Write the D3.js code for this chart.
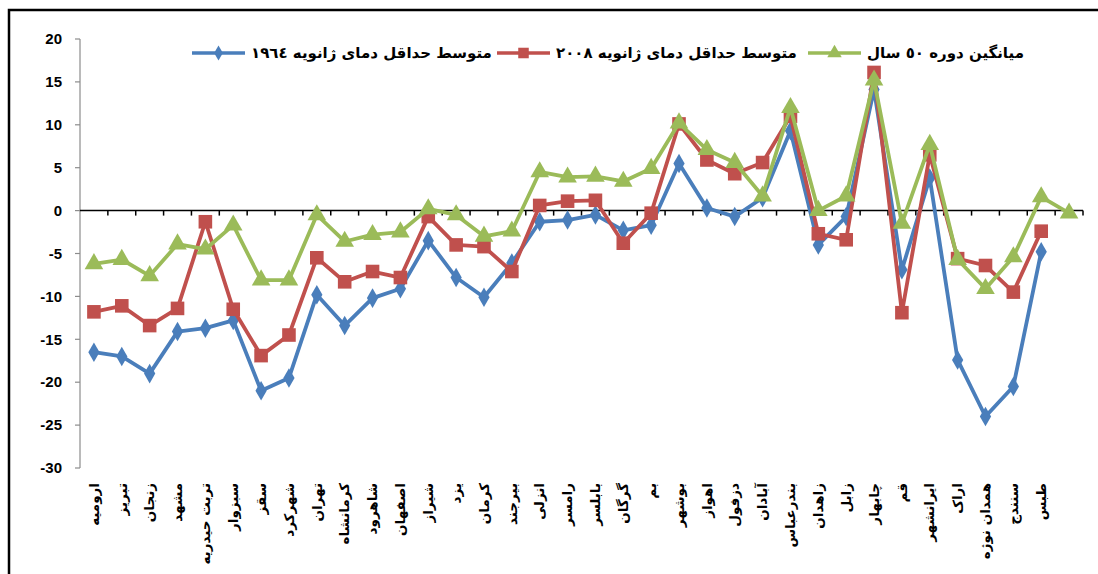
<!doctype html>
<html>
<head>
<meta charset="UTF-8">
<title>متوسط حداقل دمای ژانویه</title>
<script src="https://d3js.org/d3.v7.min.js"></script>
<style>
  body { margin: 0; background: #fff; }
  svg { display: block; }
  .ylab { font-family: "Liberation Sans", Arial, sans-serif; font-weight: bold; font-size: 15px; fill: #000; }
  .xlab { font-family: "DejaVu Sans", sans-serif; font-weight: bold; font-size: 13.5px; fill: #000; }
  .leg { font-family: "DejaVu Sans", sans-serif; font-weight: bold; font-size: 15px; fill: #000; }
</style>
</head>
<body>
<div id="chart"></div>
<script>
// categories (stations), last slot has no label
var stations = ["ارومیه", "تبریز", "زنجان", "مشهد", "تربت حیدریه", "سبزوار", "سقز", "شهرکرد",
  "تهران", "کرمانشاه", "شاهرود", "اصفهان", "شیراز", "یزد", "کرمان", "بیرجند", "انزلی", "رامسر",
  "بابلسر", "گرگان", "بم", "بوشهر", "اهواز", "دزفول", "آبادان", "بندرعباس", "زاهدان", "زابل",
  "چابهار", "قم", "ایرانشهر", "اراک", "همدان نوژه", "سنندج", "طبس", ""];

var jan1964 = [-16.5, -17.0, -19.0, -14.1, -13.7, -12.8, -21.0, -19.5, -9.8, -13.4, -10.2, -9.1,
  -3.5, -7.8, -10.1, -6.1, -1.3, -1.1, -0.5, -2.3, -1.7, 5.5, 0.3, -0.7, 1.5, 9.3, -4.0, -0.7,
  14.1, -6.9, 3.8, -17.4, -24.0, -20.5, -4.8, null];

var jan2008 = [-11.8, -11.1, -13.4, -11.4, -1.3, -11.5, -16.9, -14.5, -5.5, -8.3, -7.1, -7.8,
  -0.7, -4.0, -4.2, -7.1, 0.6, 1.1, 1.2, -3.8, -0.3, 10.1, 5.9, 4.3, 5.6, 11.0, -2.7, -3.4,
  16.1, -11.9, 6.5, -5.6, -6.4, -9.5, -2.4, null];

var avg50 = [-6.2, -5.7, -7.6, -3.9, -4.5, -1.7, -8.1, -8.1, -0.5, -3.6, -2.8, -2.5,
  0.2, -0.5, -3.0, -2.4, 4.5, 3.9, 4.0, 3.4, 4.9, 10.2, 7.1, 5.6, 1.7, 12.0, 0.0, 1.7,
  15.2, -1.5, 7.7, -5.7, -9.1, -5.4, 1.6, -0.3];

var yTicks = [20, 15, 10, 5, 0, -5, -10, -15, -20, -25, -30];

var seriesNames = ["متوسط حداقل دمای ژانویه ١٩٦٤", "متوسط حداقل دمای ژانویه ٢٠٠٨", "میانگین دوره ٥٠ سال"];

var width = 1098, height = 574;

var svg = d3.select("#chart").append("svg")
    .attr("width", width)
    .attr("height", height);

// outer frame (runs off the right and bottom edge like the scan)
svg.append("path")
    .attr("d", "M9," + (height + 5) + " L9,10 L" + (width + 5) + ",10")
    .attr("fill", "none")
    .attr("stroke", "#000")
    .attr("stroke-width", 2.5);

var x = d3.scaleBand()
    .domain(d3.range(stations.length))
    .range([80, 1083]);

var y = d3.scaleLinear()
    .domain([-30, 20])
    .range([468, 39]);

// y axis
var yAxis = svg.append("g").attr("transform", "translate(80,0)");
yAxis.append("line")
    .attr("y1", y(20)).attr("y2", y(-30))
    .attr("stroke", "#8c8c8c").attr("stroke-width", 1.2);
yAxis.selectAll(".yt").data(yTicks).enter().append("line")
    .attr("x1", -5).attr("x2", 0)
    .attr("y1", function(d) { return y(d); })
    .attr("y2", function(d) { return y(d); })
    .attr("stroke", "#8c8c8c").attr("stroke-width", 1.2);
yAxis.selectAll(".ylab").data(yTicks).enter().append("text")
    .attr("class", "ylab")
    .attr("x", -18)
    .attr("y", function(d) { return y(d); })
    .attr("dy", "0.35em")
    .attr("text-anchor", "end")
    .text(function(d) { return d; });

// x axis at zero
var y0 = y(0);
svg.append("line")
    .attr("x1", 80).attr("x2", 1083)
    .attr("y1", y0).attr("y2", y0)
    .attr("stroke", "#000").attr("stroke-width", 1.5);
var bounds = d3.range(1, stations.length + 1);
svg.selectAll(".xt").data(bounds).enter().append("line")
    .attr("x1", function(d) { return 80 + d * x.bandwidth(); })
    .attr("x2", function(d) { return 80 + d * x.bandwidth(); })
    .attr("y1", y0).attr("y2", y0 + 5)
    .attr("stroke", "#000").attr("stroke-width", 1.5);

// category labels, vertical
svg.selectAll(".xlab").data(stations).enter().append("text")
    .attr("class", "xlab")
    .attr("transform", function(d, i) {
        return "translate(" + (x(i) + x.bandwidth() / 2) + ",483) rotate(-90)";
    })
    .attr("dy", "0.35em")
    .attr("text-anchor", "end")
    .text(function(d) { return d; });

var cx = function(i) { return x(i) + x.bandwidth() / 2; };

var series = [
    { name: seriesNames[0], values: jan1964, color: "#4a7ebb", marker: "diamond", size: 110 },
    { name: seriesNames[1], values: jan2008, color: "#c0504d", marker: "square", size: 185 },
    { name: seriesNames[2], values: avg50,   color: "#9bbb59", marker: "triangle", size: 150 }
];

var symType = { diamond: d3.symbolDiamond, square: d3.symbolSquare, triangle: d3.symbolTriangle };

var line = d3.line()
    .defined(function(d) { return d != null; })
    .x(function(d, i) { return cx(i); })
    .y(function(d) { return y(d); });

series.forEach(function(s) {
    var g = svg.append("g");
    g.append("path")
        .datum(s.values)
        .attr("d", line)
        .attr("fill", "none")
        .attr("stroke", s.color)
        .attr("stroke-width", 3.8)
        .attr("stroke-linejoin", "round");
    var pts = s.values.map(function(v, i) { return { v: v, i: i }; })
        .filter(function(p) { return p.v != null; });
    g.selectAll("path.m").data(pts).enter().append("path")
        .attr("class", "m")
        .attr("d", d3.symbol().type(symType[s.marker]).size(s.size))
        .attr("transform", function(p) { return "translate(" + cx(p.i) + "," + y(p.v) + ")"; })
        .attr("fill", s.color);
});

// legend
var legX = [192, 497, 808];
var legY = 53;
series.forEach(function(s, k) {
    var g = svg.append("g").attr("transform", "translate(" + legX[k] + "," + legY + ")");
    g.append("line")
        .attr("x1", 0).attr("x2", 53)
        .attr("stroke", s.color).attr("stroke-width", 3.5);
    g.append("path")
        .attr("d", d3.symbol().type(symType[s.marker]).size(s.size * 0.6))
        .attr("transform", "translate(26.5,0)")
        .attr("fill", s.color);
    g.append("text")
        .attr("class", "leg")
        .attr("x", 59)
        .attr("dy", "0.35em")
        .text(s.name);
});
</script>
</body>
</html>
